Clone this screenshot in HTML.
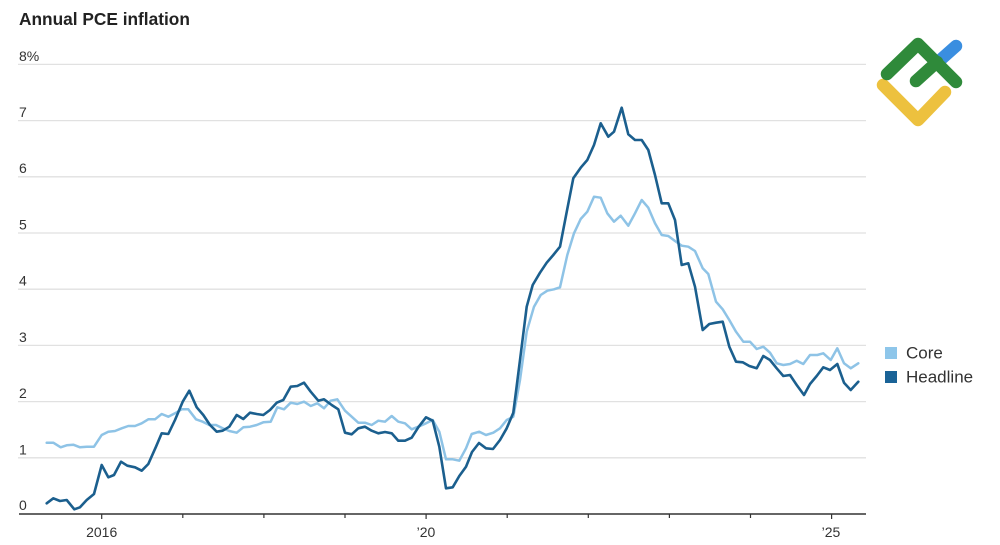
<!DOCTYPE html>
<html><head><meta charset="utf-8"><style>
html,body{margin:0;padding:0;background:#fff;}
svg{display:block;}
text{font-family:"Liberation Sans",sans-serif;}
</style></head><body>
<svg width="1000" height="545" viewBox="0 0 1000 545" xmlns="http://www.w3.org/2000/svg">
<rect width="1000" height="545" fill="#fff"/>
<text x="19" y="25" font-size="17.3" font-weight="bold" fill="#222">Annual PCE inflation</text>
<g stroke="#e1e1e1" stroke-width="1.3">
<line x1="18" x2="866" y1="64.4" y2="64.4"/>
<line x1="18" x2="866" y1="120.6" y2="120.6"/>
<line x1="18" x2="866" y1="176.8" y2="176.8"/>
<line x1="18" x2="866" y1="233" y2="233"/>
<line x1="18" x2="866" y1="289.2" y2="289.2"/>
<line x1="18" x2="866" y1="345.4" y2="345.4"/>
<line x1="18" x2="866" y1="401.6" y2="401.6"/>
<line x1="18" x2="866" y1="457.8" y2="457.8"/>
</g>
<g font-size="14" fill="#333">
<text x="19" y="61">8%</text>
<text x="19" y="117">7</text>
<text x="19" y="173">6</text>
<text x="19" y="229.5">5</text>
<text x="19" y="285.5">4</text>
<text x="19" y="342">3</text>
<text x="19" y="398">2</text>
<text x="19" y="454.5">1</text>
<text x="19" y="510">0</text>
</g>
<line x1="19" x2="866" y1="514" y2="514" stroke="#333" stroke-width="1.5"/>
<g stroke="#333" stroke-width="1.2">
<line x1="101.7" x2="101.7" y1="514" y2="519"/>
<line x1="182.8" x2="182.8" y1="514" y2="518"/>
<line x1="263.9" x2="263.9" y1="514" y2="518"/>
<line x1="345" x2="345" y1="514" y2="518"/>
<line x1="426.1" x2="426.1" y1="514" y2="519"/>
<line x1="507.2" x2="507.2" y1="514" y2="518"/>
<line x1="588.3" x2="588.3" y1="514" y2="518"/>
<line x1="669.4" x2="669.4" y1="514" y2="518"/>
<line x1="750.5" x2="750.5" y1="514" y2="518"/>
<line x1="831.6" x2="831.6" y1="514" y2="519"/>
</g>
<g font-size="14" fill="#333" text-anchor="middle">
<text x="101.7" y="537">2016</text>
<text x="426" y="537">’20</text>
<text x="831" y="537">’25</text>
</g>
<polyline fill="none" stroke="#8ec3e6" stroke-width="2.5" stroke-linejoin="round" stroke-linecap="round" points="46.7,442.7 53.3,442.7 60.7,447.3 66.7,445.3 73.3,444.7 80,447.3 86.7,446.7 94,446.7 101.7,435 108.3,431.7 115,431 121.7,428.3 128.3,426 135,426 141.7,423.3 148.3,419.3 155,419.3 161.7,414 168.3,416.7 175,413.3 181.7,409.3 188.3,409.3 196,419.3 202.7,421.7 209.3,425 216,425 222.7,428.3 229.3,431 236.7,432.7 243.3,427.3 250,426.7 256.7,425 263.3,422.3 270.7,421.7 277.3,407.3 284,409.3 290.7,402.7 297.3,404 304,401.7 310.7,406 317.3,403.3 324,408.3 330.7,400.7 337.3,399.3 345,410.7 351.7,416.7 358.3,422.7 365,422.7 371.7,425 378.3,420.7 385,421.7 391.7,416 398.3,421.7 405,423.3 411.7,429.3 418.3,426.7 426,423.3 432.7,420 439.3,431.7 446,459.3 452.7,459.3 459.3,460.7 466,448.3 471.7,434 479.3,431.7 486,435 493.3,432.7 500,428.3 506.7,420 513.3,416.7 520,380 526.7,331.7 534,306.7 540.7,295 547.3,290.7 554,289.3 560,287.3 567.3,255 574,233.3 580.7,219 587.3,211.7 594,196.7 600.7,197.7 607.3,213.3 614,221.7 620.7,215.7 628.3,225.7 635,213.3 641.7,200 648.3,207.7 655,223.3 661.7,235 668.3,236 675,241 681.7,245.7 688.3,246.7 695,251 702.7,268.3 708.3,274 716,301.7 722.7,309.3 729.3,320 736,331.7 743.3,341.7 750,341.7 756.7,349 763.3,346.7 770,352.7 776.7,363.3 783.3,365 790,364 796.7,360.7 803.3,364 810,355 817.3,355 823.3,353.3 830.7,360 837.3,348.3 844,363.3 850.7,368.3 858.3,363.3"/>
<polyline fill="none" stroke="#1b5f8e" stroke-width="2.6" stroke-linejoin="round" stroke-linecap="round" points="46.7,503.3 53.3,498.3 60,501 66.7,500 74.3,509.3 80,507.3 86.7,500 94,494 101.7,465 108.3,477.3 114,475 121,461.7 127.3,465.7 135,467.3 141.7,470.7 148.3,464 156,446.7 161.7,433.3 168.3,434 175,420 182.7,401.7 189.3,390.7 196.7,407.3 203.3,415 210,425 216.7,431.7 222.7,430.7 229.3,426.7 236.7,415 243.3,419 250,412.7 256.7,414 263.3,415 270,410 276.7,402.7 283.3,400 290.7,386.7 297.3,386 304,382.7 310.7,391.7 318.3,400.7 324,399.3 331.7,405 338.3,409.3 345,432.7 351.7,434.3 358.3,428.3 365,426.7 371.7,430.7 378.3,433.3 385,432 391.7,433.3 398.3,440.7 405,440.7 411.7,437.7 418.3,427.3 426,417.3 432.7,420.7 439.3,446.7 446,488.3 452.7,487.3 459.3,476 466,466.7 472,452 479,443 486,448.3 493,449 500,440 506.7,428.3 513.3,412.7 520,360 526.7,306.7 532.7,285 540,272.7 546.7,262.7 553.3,255 560,246.7 566.7,212 573.3,178.3 580.7,167.7 587.3,160 594,145 600.7,123.3 608.3,136.7 614,131.7 621.7,107.7 628.3,134.3 635,140 641.7,140 648.3,150 655,175 661.7,203.3 668.3,203.3 675,220 681.7,265 688.3,263.3 695,286.7 702.7,330 709.3,324 716,322.7 722.7,321.7 729.3,346.7 736,361.7 742.7,362.3 749.3,366 756.7,368.3 763.3,356 770,360 776.7,368.3 783.3,376 790,375 796.7,385 804,395 810,384 816.7,376 823.3,367.3 830,370 837.3,364 844,382.7 850.7,390 858.3,381.7"/>
<rect x="885" y="347" width="12" height="12" fill="#8ec6ea"/>
<rect x="885" y="371" width="12" height="12" fill="#1a6397"/>
<g font-size="17" fill="#333">
<text x="906" y="358.5">Core</text>
<text x="906" y="382.5">Headline</text>
</g>
<g fill="none" stroke-linecap="round" stroke-linejoin="round" stroke-width="12.5">
<line x1="938" y1="62" x2="956" y2="46" stroke="#3a8ee0"/>
<polyline points="883,85 918,120 945,92" stroke="#edc13e"/>
<polyline points="887,74 918,44 956,82" stroke="#2f8a3a"/>
<line x1="916" y1="81" x2="937" y2="62" stroke="#2f8a3a"/>
</g>
</svg>
</body></html>
